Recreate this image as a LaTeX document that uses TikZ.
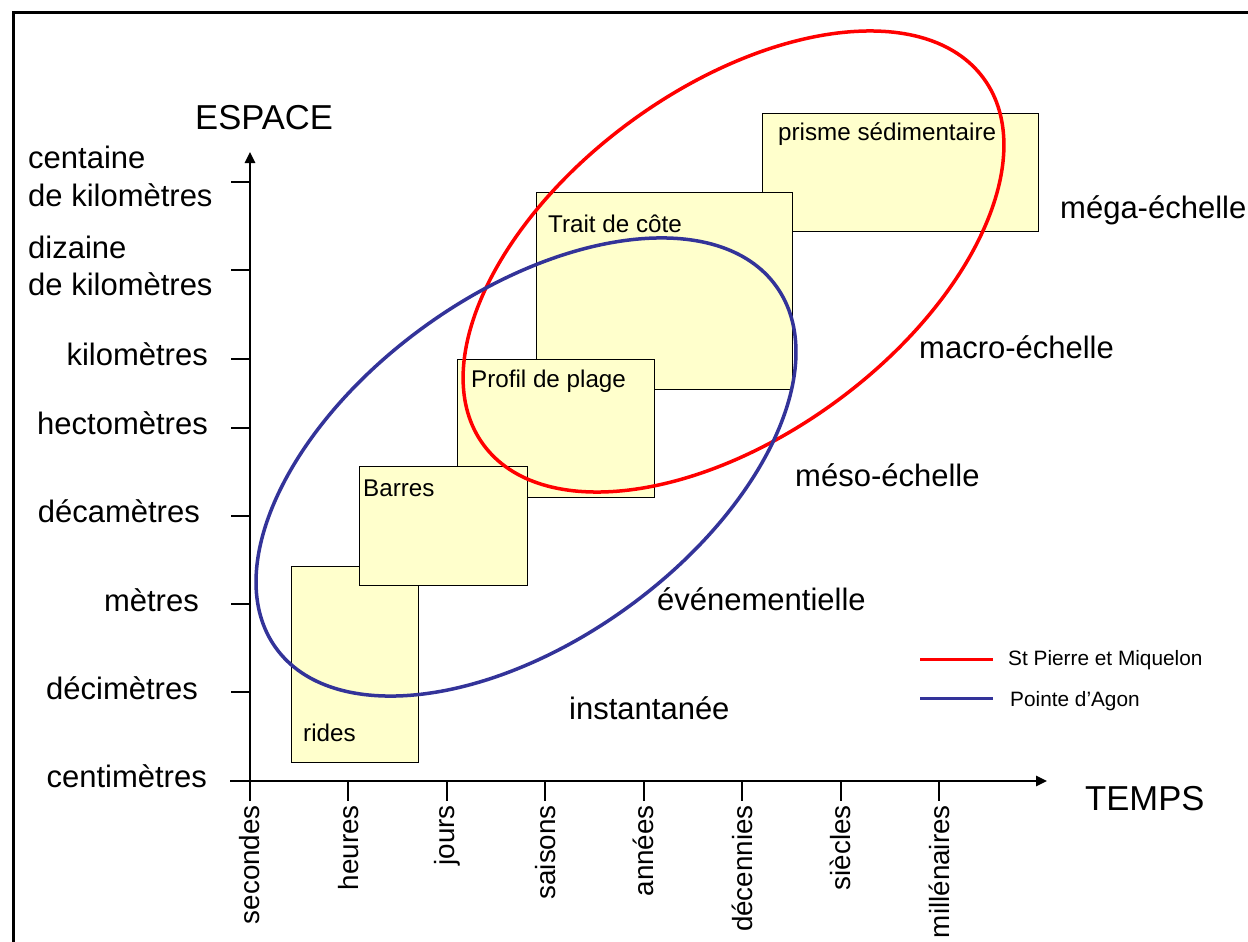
\documentclass[tikz,border=0pt]{standalone}
\usepackage{fontspec}
\setmainfont{Liberation Sans}
\usetikzlibrary{arrows.meta}
\definecolor{boxfill}{HTML}{FFFFCC}
\definecolor{redell}{HTML}{FF0000}
\definecolor{blueell}{HTML}{333399}
\begin{document}
\begin{tikzpicture}[x=1pt,y=-1pt,
  scalebox/.style={draw=black,line width=1.3pt,fill=boxfill,inner sep=0pt,anchor=north west},
  boxlabel/.style={anchor=base west,inner sep=0pt,font=\fontsize{24.2}{28}\selectfont},
  ylab/.style={anchor=base east,inner sep=0pt,font=\fontsize{31}{36}\selectfont},
  ylabl/.style={anchor=base west,inner sep=0pt,font=\fontsize{31}{36}\selectfont},
  xlab/.style={anchor=east,rotate=90,inner sep=0pt,font=\fontsize{27.8}{32}\selectfont},
  scalelab/.style={anchor=base west,inner sep=0pt,font=\fontsize{31}{36}\selectfont},
  axislab/.style={anchor=base west,inner sep=0pt,font=\fontsize{34.6}{40}\selectfont},
  legtext/.style={anchor=base west,inner sep=0pt,font=\fontsize{20.8}{24}\selectfont},
  axisline/.style={line width=2.5pt,-{Triangle[length=11pt,width=10pt]}},
  tickline/.style={line width=2pt},
  ell/.style={line width=3.5pt}]
\useasboundingbox (0,0) rectangle (1248,942);
\fill[white] (0,0) rectangle (1248,942);
\draw[line width=3pt] (13,942) -- (13,13) -- (1248,13);

% boxes (drawing order matters)
\node[scalebox,minimum width=276pt,minimum height=118pt] (prisme) at (762,113) {};
\node[scalebox,minimum width=256pt,minimum height=197pt] (trait) at (536,192) {};
\node[scalebox,minimum width=197pt,minimum height=138pt] (profil) at (457,359) {};
\node[scalebox,minimum width=127pt,minimum height=196pt] (rides) at (291,566) {};
\node[scalebox,minimum width=168pt,minimum height=119pt] (barres) at (359,466) {};

\node[boxlabel] (tprisme) at (778,140) {prisme sédimentaire};
\node[boxlabel] (ttrait) at (548,232) {Trait de côte};
\node[boxlabel] (tprofil) at (471,387) {Profil de plage};
\node[boxlabel] (tbarres) at (363,496) {Barres};
\node[boxlabel] (trides) at (303,741) {rides};

% axes
\coordinate (ybot) at (250,801);
\coordinate (ytop) at (250,152);
\coordinate (xstart) at (230,781);
\coordinate (xend) at (1047,781);
\draw[axisline] (ybot) -- (ytop);
\draw[axisline] (xstart) -- (xend);
\foreach \y in {182,270,359,428,516,604,692}
  \draw[tickline] (231,\y) -- (250,\y);
\foreach \i in {1,...,7}
  \draw[tickline] ({250+98.43*\i},781) -- ++(0,20);

\node[axislab] (espace) at (195,129) {ESPACE};
\node[axislab] (temps) at (1085,810) {TEMPS};

% y labels
\node[ylabl] (y1a) at (28,168) {centaine};
\node[ylabl] (y1b) at (28,206) {de kilomètres};
\node[ylabl] (y2a) at (28,258) {dizaine};
\node[ylabl] (y2b) at (28,295) {de kilomètres};
\node[ylab] (y3) at (208,365) {kilomètres};
\node[ylab] (y4) at (208,434) {hectomètres};
\node[ylab] (y5) at (200,522) {décamètres};
\node[ylab] (y6) at (199,611) {mètres};
\node[ylab] (y7) at (198,699) {décimètres};
\node[ylab] (y8) at (207,787) {centimètres};

% x labels
\foreach \lab [count=\i from 0] in {secondes,heures,jours,saisons,années,décennies,siècles,millénaires}
  \node[xlab] (x\i) at ({250+98.43*\i},805) {\lab};

% scale labels
\node[scalelab] (mega) at (1060,218) {méga-échelle};
\node[scalelab] (macro) at (919,358) {macro-échelle};
\node[scalelab] (meso) at (795,486) {méso-échelle};
\node[scalelab] (even) at (657,610) {événementielle};
\node[scalelab] (inst) at (569,719) {instantanée};

% ellipses
\draw[ell,redell,rotate around={36.2:(733.5,261.5)}] (733.5,261.5) ellipse [x radius=310pt, y radius=173.6pt];
\draw[ell,blueell,rotate around={35.9:(526,467)}] (526,467) ellipse [x radius=308.7pt, y radius=173.3pt];

% legend
\coordinate (l1a) at (920,659);
\coordinate (l1b) at (993,659);
\coordinate (l2a) at (920,698);
\coordinate (l2b) at (993,698);
\draw[redell,line width=3pt] (l1a) -- (l1b);
\draw[blueell,line width=3pt] (l2a) -- (l2b);
\node[legtext] (leg1) at (1008,665) {St Pierre et Miquelon};
\node[legtext] (leg2) at (1010,706) {Pointe d’Agon};
\end{tikzpicture}
\end{document}
